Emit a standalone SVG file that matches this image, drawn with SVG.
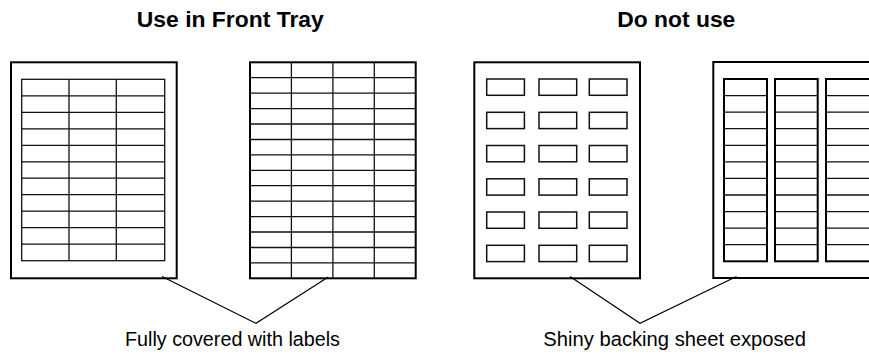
<svg xmlns="http://www.w3.org/2000/svg" width="869" height="354" viewBox="0 0 869 354">
<style>
.sheet{fill:#fff;stroke:#000;stroke-width:2}
.grid{fill:none;stroke:#111;stroke-width:1.3}
.col{fill:#fff;stroke:#000;stroke-width:2}
.lbl{fill:#fff;stroke:#111;stroke-width:1.5}
.conn{fill:none;stroke:#000;stroke-width:1.2}
.title{font-family:"Liberation Sans",Arial,sans-serif;font-weight:bold;font-size:21.5px;fill:#000}
.cap{font-family:"Liberation Sans",Arial,sans-serif;font-size:20.5px;fill:#000}
</style>
<rect width="869" height="354" fill="#fff"/>
<text class="title" x="230.3" y="26.7" text-anchor="middle" textLength="187" lengthAdjust="spacingAndGlyphs">Use in Front Tray</text>
<text class="title" x="676.3" y="26.7" text-anchor="middle" textLength="118" lengthAdjust="spacingAndGlyphs">Do not use</text>

<g id="sheet1">
<rect class="sheet" x="11" y="62.3" width="165.7" height="216"/>
<rect class="grid" x="21.7" y="79.3" width="143" height="181.4"/>
<path class="grid" d="M69 79.3V260.7M116.3 79.3V260.7M21.7 95.8H164.7M21.7 112.3H164.7M21.7 128.8H164.7M21.7 145.3H164.7M21.7 161.8H164.7M21.7 178.2H164.7M21.7 194.7H164.7M21.7 211.2H164.7M21.7 227.7H164.7M21.7 244.2H164.7"/>
</g>

<g id="sheet2">
<rect class="sheet" x="250" y="62.3" width="165.7" height="216"/>
<path class="grid" d="M291.4 62.3V278.3M332.9 62.3V278.3M374.3 62.3V278.3M250 77.7H415.7M250 93.2H415.7M250 108.6H415.7M250 124H415.7M250 139.5H415.7M250 154.9H415.7M250 170.3H415.7M250 185.7H415.7M250 201.2H415.7M250 216.6H415.7M250 232H415.7M250 247.5H415.7M250 262.9H415.7"/>
</g>

<g id="sheet3">
<rect class="sheet" x="474.3" y="62.3" width="165.7" height="216"/>
<rect class="lbl" x="486.7" y="79" width="37.7" height="16.3"/>
<rect class="lbl" x="539" y="79" width="37.7" height="16.3"/>
<rect class="lbl" x="589.3" y="79" width="37.7" height="16.3"/>
<rect class="lbl" x="486.7" y="112.3" width="37.7" height="16.3"/>
<rect class="lbl" x="539" y="112.3" width="37.7" height="16.3"/>
<rect class="lbl" x="589.3" y="112.3" width="37.7" height="16.3"/>
<rect class="lbl" x="486.7" y="145.5" width="37.7" height="16.3"/>
<rect class="lbl" x="539" y="145.5" width="37.7" height="16.3"/>
<rect class="lbl" x="589.3" y="145.5" width="37.7" height="16.3"/>
<rect class="lbl" x="486.7" y="178.8" width="37.7" height="16.3"/>
<rect class="lbl" x="539" y="178.8" width="37.7" height="16.3"/>
<rect class="lbl" x="589.3" y="178.8" width="37.7" height="16.3"/>
<rect class="lbl" x="486.7" y="212" width="37.7" height="16.3"/>
<rect class="lbl" x="539" y="212" width="37.7" height="16.3"/>
<rect class="lbl" x="589.3" y="212" width="37.7" height="16.3"/>
<rect class="lbl" x="486.7" y="245.3" width="37.7" height="16.3"/>
<rect class="lbl" x="539" y="245.3" width="37.7" height="16.3"/>
<rect class="lbl" x="589.3" y="245.3" width="37.7" height="16.3"/>
</g>

<g id="sheet4">
<rect class="sheet" x="713.3" y="62" width="180" height="216"/>
<rect class="col" x="724" y="79" width="43" height="182.3"/>
<rect class="col" x="775" y="79" width="42.7" height="182.3"/>
<rect class="col" x="826" y="79" width="60" height="182.3"/>
<path class="grid" d="M724 95.6H767M724 112.1H767M724 128.7H767M724 145.3H767M724 161.9H767M724 178.4H767M724 195H767M724 211.6H767M724 228.1H767M724 244.7H767"/>
<path class="grid" d="M775 95.6H817.7M775 112.1H817.7M775 128.7H817.7M775 145.3H817.7M775 161.9H817.7M775 178.4H817.7M775 195H817.7M775 211.6H817.7M775 228.1H817.7M775 244.7H817.7"/>
<path class="grid" d="M826 95.6H869M826 112.1H869M826 128.7H869M826 145.3H869M826 161.9H869M826 178.4H869M826 195H869M826 211.6H869M826 228.1H869M826 244.7H869"/>
</g>

<g id="connectors">
<path class="conn" d="M162 276.5L256 323.3L328.3 277"/>
<path class="conn" d="M570 276.5L640 323.3L736.5 276.5"/>
</g>

<text class="cap" x="232.5" y="346" text-anchor="middle" textLength="215" lengthAdjust="spacingAndGlyphs">Fully covered with labels</text>
<text class="cap" x="674.7" y="346" text-anchor="middle" textLength="262.7" lengthAdjust="spacingAndGlyphs">Shiny backing sheet exposed</text>
</svg>
